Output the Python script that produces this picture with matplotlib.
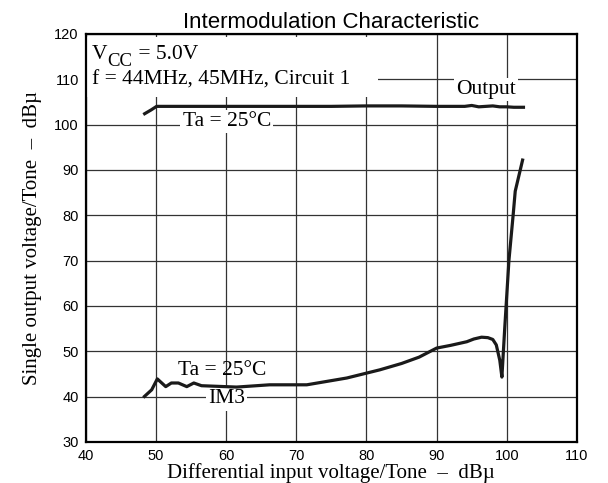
import matplotlib.pyplot as plt
from matplotlib.patches import Rectangle

out_x = [48.2, 49.3, 50.1, 55, 60, 65, 70, 75, 80, 85, 90, 94, 95, 96, 97, 98, 99, 100, 101, 102.6]
out_y = [102.2, 103.2, 104.0, 104.0, 104.0, 104.0, 104.0, 104.0, 104.1, 104.1, 104.0, 104.0, 104.2, 103.9, 104.0, 104.1, 103.9, 103.9, 103.8, 103.8]

im3_x = [48.2, 49.4, 50.2, 51.4, 52.2, 53.2, 54.4, 55.4, 56.5, 61.5, 66.2, 71.5, 77.2, 81.9, 85.0, 87.5,
         90.0, 92.0, 94.3, 95.3, 96.4, 97.3, 98.0, 98.5, 99.0, 99.3, 99.7, 100.3, 100.9, 101.2, 102.3]
im3_y = [39.8, 41.5, 43.9, 42.2, 43.0, 43.0, 42.2, 43.0, 42.4, 42.1, 42.6, 42.6, 44.1, 45.9, 47.3, 48.7,
         50.7, 51.3, 52.1, 52.7, 53.1, 53.0, 52.6, 51.4, 48.0, 44.3, 55.0, 70.0, 80.0, 85.3, 92.5]

x_ticks = [40, 50, 60, 70, 80, 90, 100, 110]
y_ticks = [30, 40, 50, 60, 70, 80, 90, 100, 110, 120]

serif = "Liberation Serif"
sans = "Liberation Sans"
fs = 15.5

fig = plt.figure(figsize=(6.08, 4.83), dpi=100)
ax = fig.add_axes([0.141, 0.085, 0.808, 0.845])

ax.plot(out_x, out_y, color="#1a1a1a", lw=2.3, solid_capstyle="butt", zorder=4)
ax.plot(im3_x, im3_y, color="#1a1a1a", lw=2.3, solid_capstyle="butt", zorder=4)

ax.set_xlim(40, 110)
ax.set_ylim(30, 120)
ax.set_xticks(x_ticks)
ax.set_yticks(y_ticks)
ax.grid(True, color="#333333", lw=0.9)
ax.tick_params(length=0, pad=5, labelsize=10.5)
for lab in ax.get_xticklabels() + ax.get_yticklabels():
    lab.set_fontfamily(sans)
for s in ax.spines.values():
    s.set_linewidth(1.6)

white = dict(facecolor="white", edgecolor="none", pad=1.5)

# white patch behind the condition text (hides the grid there, not the frame)
ax.add_patch(Rectangle((0, 0.846), 0.595, 0.147, transform=ax.transAxes,
                       facecolor="white", edgecolor="none", zorder=2))

tv = ax.text(40.9, 114.55, "V", family=serif, fontsize=fs, va="baseline", zorder=3.5)
tcc = ax.annotate("CC", xy=(1, 0), xycoords=tv, xytext=(0, -4.5), textcoords="offset points",
                  family=serif, fontsize=13.5, va="bottom", ha="left", zorder=3.5)
ax.annotate(" = 5.0V", xy=(1, 0), xycoords=tcc, xytext=(0, 4.5), textcoords="offset points",
            family=serif, fontsize=fs, va="bottom", ha="left", zorder=3.5)
ax.text(40.9, 108.9, "f = 44MHz, 45MHz, Circuit 1", family=serif, fontsize=fs,
        va="baseline", ha="left", zorder=3.5)

ax.text(97.1, 107.7, "Output", family=serif, fontsize=fs, ha="center", va="center",
        bbox=white, zorder=3)
ax.text(60.1, 100.6, "Ta = 25°C", family=serif, fontsize=fs, ha="center", va="center",
        bbox=white, zorder=3)
ax.text(59.5, 45.7, "Ta = 25°C", family=serif, fontsize=fs, ha="center", va="center", zorder=3)
ax.text(60.1, 39.5, "IM3", family=serif, fontsize=fs, ha="center", va="center",
        bbox=white, zorder=3)

ax.set_title("Intermodulation Characteristic", family=sans, fontsize=16, pad=4)
ax.set_ylabel("Single output voltage/Tone  –  dBµ", family=serif, fontsize=15, labelpad=9)
ax.set_xlabel("Differential input voltage/Tone  –  dBµ", family=serif, fontsize=15, labelpad=0)

fig.savefig("out.png", dpi=100)
